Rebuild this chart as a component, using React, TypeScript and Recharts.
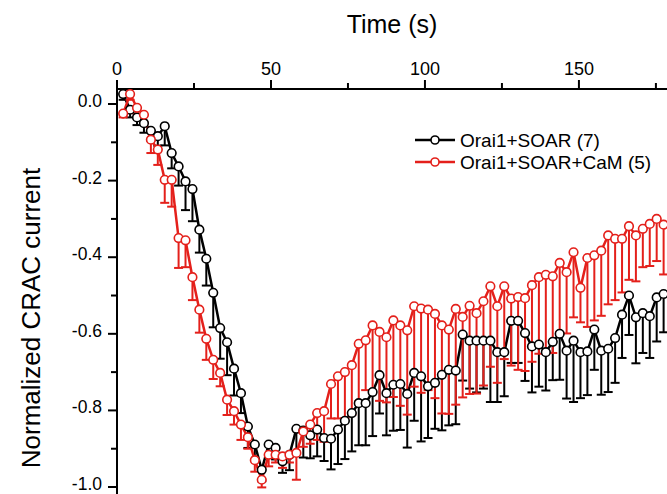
import { ErrorBar, Legend, Line, LineChart, XAxis, YAxis } from "recharts";

const time = [
  2, 4.25, 6.5, 8.75, 11, 13.25, 15.5, 17.75, 20, 22.25,
  24.5, 26.75, 29, 31.25, 33.5, 35.75, 38, 40.25, 42.5, 44.75,
  47, 49.25, 51.5, 53.75, 56, 58.25, 60.5, 62.75, 65, 67.25,
  69.5, 71.75, 74, 76.25, 78.5, 80.75, 83, 85.25, 87.5, 89.75,
  92, 94.25, 96.5, 98.75, 101, 103.25, 105.5, 107.75, 110, 112.25,
  114.5, 116.75, 119, 121.25, 123.5, 125.75, 128, 130.25, 132.5, 134.75,
  137, 139.25, 141.5, 143.75, 146, 148.25, 150.5, 152.75, 155, 157.25,
  159.5, 161.75, 164, 166.25, 168.5, 170.75, 173, 175.25, 177.5,
];

// Orai1+SOAR (7)
const soarMean = [
  0.026, -0.015, -0.035, -0.05, -0.07, -0.084, -0.058, -0.128, -0.163, -0.202,
  -0.222, -0.328, -0.404, -0.493, -0.585, -0.622, -0.691, -0.755, -0.842, -0.889,
  -0.955, -0.889, -0.898, -0.933, -0.916, -0.848, -0.853, -0.865, -0.85, -0.872,
  -0.874, -0.85, -0.827, -0.807, -0.781, -0.781, -0.752, -0.708, -0.755, -0.733,
  -0.731, -0.757, -0.702, -0.711, -0.737, -0.728, -0.707, -0.694, -0.696, -0.602,
  -0.618, -0.618, -0.618, -0.618, -0.648, -0.648, -0.566, -0.566, -0.598, -0.633,
  -0.628, -0.648, -0.621, -0.6, -0.644, -0.618, -0.648, -0.646, -0.589, -0.644,
  -0.639, -0.611, -0.55, -0.5, -0.557, -0.546, -0.554, -0.505, -0.496,
];
const soarErr = [
  0.015, 0.02, 0.02, 0.025, 0.025, 0.025, 0.05, 0.04, 0.05, 0.075,
  0.084, 0.06, 0.07, 0.09, 0.08, 0.086, 0.07, 0.052, 0.056, 0.042,
  0.03, 0.035, 0.03, 0.03, 0.04, 0.06, 0.07, 0.06, 0.07, 0.06,
  0.08, 0.09, 0.1, 0.1, 0.11, 0.11, 0.115, 0.1, 0.11, 0.12,
  0.12, 0.14, 0.125, 0.17, 0.135, 0.12, 0.145, 0.145, 0.14, 0.12,
  0.125, 0.135, 0.125, 0.16, 0.13, 0.115, 0.11, 0.11, 0.125, 0.12,
  0.11, 0.1, 0.1, 0.12, 0.125, 0.16, 0.12, 0.114, 0.105, 0.115,
  0.113, 0.117, 0.113, 0.103, 0.12, 0.104, 0.109, 0.115, 0.1,
];

// Orai1+SOAR+CaM (5)
const camMean = [
  -0.025, 0.026, -0.01, -0.028, -0.093, -0.119, -0.198, -0.198, -0.35, -0.356,
  -0.452, -0.537, -0.613, -0.668, -0.702, -0.772, -0.802, -0.837, -0.87, -0.93,
  -0.981, -0.916, -0.916, -0.92, -0.916, -0.911, -0.855, -0.837, -0.807, -0.802,
  -0.731, -0.711, -0.7, -0.682, -0.626, -0.617, -0.578, -0.595, -0.609, -0.565,
  -0.578, -0.591, -0.528, -0.534, -0.537, -0.548, -0.578, -0.589, -0.535, -0.556,
  -0.527, -0.546, -0.515, -0.476, -0.528, -0.476, -0.508, -0.504, -0.507, -0.473,
  -0.452, -0.446, -0.45, -0.415, -0.439, -0.387, -0.48, -0.402, -0.395, -0.383,
  -0.343, -0.352, -0.352, -0.319, -0.343, -0.326, -0.313, -0.3, -0.315,
];
const camErr = [
  0.01, 0.015, 0.015, 0.02, 0.035, 0.04, 0.06, 0.07, 0.078, 0.07,
  0.06, 0.06, 0.055, 0.05, 0.035, 0.04, 0.035, 0.04, 0.03, 0.03,
  0.02, 0.03, 0.02, 0.03, 0.02, 0.07, 0.04, 0.05, 0.07, 0.08,
  0.09, 0.11, 0.12, 0.13, 0.15, 0.13, 0.17, 0.18, 0.17, 0.2,
  0.21, 0.22, 0.21, 0.22, 0.21, 0.22, 0.23, 0.22, 0.25, 0.21,
  0.23, 0.21, 0.22, 0.21, 0.2, 0.19, 0.175, 0.19, 0.19, 0.2,
  0.2, 0.2, 0.2, 0.18, 0.16, 0.17, 0.09, 0.18, 0.17, 0.17,
  0.18, 0.16, 0.14, 0.14, 0.12, 0.1, 0.11, 0.11, 0.13,
];

const timeTicks = [0, 25, 50, 75, 100, 125, 150, 175];
const currentTicks = [0, -0.1, -0.2, -0.3, -0.4, -0.5, -0.6, -0.7, -0.8, -0.9, -1.0];

const seriesNames = ["Orai1+SOAR (7)", "Orai1+SOAR+CaM (5)"];

const FONT = '"Liberation Sans", Arial, Helvetica, sans-serif';
const RED = "#E4201B";

// error bars only point downwards: [minus, plus]
const rows = time.map((t, i) => ({
  time: t,
  soar: soarMean[i],
  soarErr: [soarErr[i], 0],
  cam: camMean[i],
  camErr: [camErr[i], 0],
}));

function TimeTick({ x, y, payload }: any) {
  const major = payload.value % 50 === 0;
  return (
    <g>
      <line x1={x} x2={x} y1={y} y2={y - (major ? 9 : 6)} stroke="#000" strokeWidth={2} />
      {major && (
        <text x={x} y={y - 14} textAnchor="middle" fontSize={18} fontFamily={FONT} fill="#000">
          {payload.value}
        </text>
      )}
    </g>
  );
}

function CurrentTick({ x, y, payload }: any) {
  const major = Math.round(Math.abs(payload.value) * 10) % 2 === 0;
  return (
    <g>
      <line x1={x} x2={x - (major ? 9 : 6)} y1={y} y2={y} stroke="#000" strokeWidth={2} />
      {major && (
        <text x={x - 15} y={y} dy="0.17em" textAnchor="end" fontSize={17.5} fontFamily={FONT} fill="#000">
          {Math.abs(payload.value) < 1e-9 ? "0.0" : payload.value.toFixed(1)}
        </text>
      )}
    </g>
  );
}

function SeriesLegend() {
  const colors = ["#000", RED];
  return (
    <svg width={260} height={48}>
      {seriesNames.map((name, i) => {
        const cy = 12 + i * 22;
        return (
          <g key={name}>
            <line x1={3} x2={43} y1={cy} y2={cy} stroke={colors[i]} strokeWidth={2.5} />
            <circle cx={23} cy={cy} r={4} fill="#fff" stroke={colors[i]} strokeWidth={1.6} />
            <text x={48} y={cy} dy="0.36em" fontSize={19} fontFamily={FONT} fill="#000">
              {name}
            </text>
          </g>
        );
      })}
    </svg>
  );
}

export default function App() {
  return (
    <div style={{ position: "absolute", left: 0, top: 0, width: 667, height: 494, overflow: "hidden", background: "#fff" }}>
      <LineChart width={667} height={510} data={rows} margin={{ top: 0, right: 0, bottom: 0, left: 0 }}>
        <XAxis
          type="number"
          dataKey="time"
          orientation="top"
          domain={[0, 178.6]}
          allowDataOverflow
          ticks={timeTicks}
          interval={0}
          height={89}
          tickSize={0}
          tickMargin={0}
          tickLine={false}
          tick={<TimeTick />}
          axisLine={{ stroke: "#000", strokeWidth: 2 }}
          label={({ viewBox }: any) => (
            <text
              x={viewBox.x + viewBox.width / 2}
              y={33}
              textAnchor="middle"
              fontSize={25}
              fontFamily={FONT}
              fill="#000"
            >
              Time (s)
            </text>
          )}
        />
        <YAxis
          type="number"
          domain={[-1.06, 0.0392]}
          allowDataOverflow
          ticks={currentTicks}
          interval={0}
          width={117}
          tickSize={0}
          tickMargin={0}
          tickLine={false}
          tick={<CurrentTick />}
          axisLine={{ stroke: "#000", strokeWidth: 2 }}
          label={() => (
            <text
              x={40}
              y={318}
              transform="rotate(-90 40 318)"
              textAnchor="middle"
              fontSize={26}
              fontFamily={FONT}
              fill="#000"
            >
              Normalized CRAC current
            </text>
          )}
        />
        <Legend
          layout="vertical"
          align="center"
          verticalAlign="middle"
          content={<SeriesLegend />}
          wrapperStyle={{ left: 412, top: 128, width: 260 }}
        />
        <Line
          type="linear"
          dataKey="soar"
          name={seriesNames[0]}
          stroke="#000"
          strokeWidth={2.5}
          dot={{ r: 4.3, fill: "#fff", stroke: "#000", strokeWidth: 1.6 }}
          activeDot={false}
          isAnimationActive={false}
        >
          <ErrorBar dataKey="soarErr" direction="y" width={4.5} stroke="#000" strokeWidth={2} />
        </Line>
        <Line
          type="linear"
          dataKey="cam"
          name={seriesNames[1]}
          stroke={RED}
          strokeWidth={2.5}
          dot={{ r: 4.3, fill: "#fff", stroke: RED, strokeWidth: 1.6 }}
          activeDot={false}
          isAnimationActive={false}
        >
          <ErrorBar dataKey="camErr" direction="y" width={4.5} stroke={RED} strokeWidth={2} />
        </Line>
      </LineChart>
    </div>
  );
}
